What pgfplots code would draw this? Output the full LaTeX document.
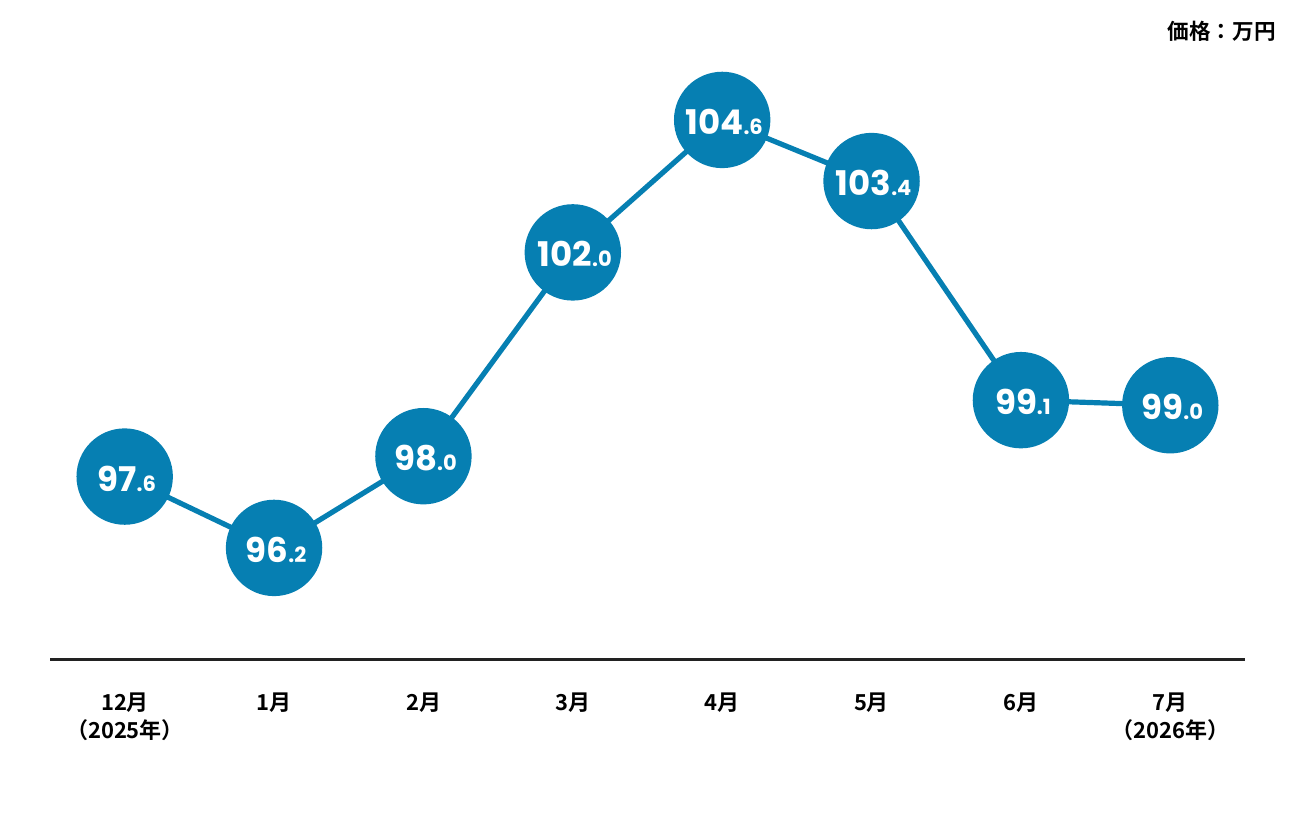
\documentclass[border=0pt]{standalone}
\usepackage{pgfplots}
\pgfplotsset{compat=1.18}
\usepackage{pgfplotstable}
\usepackage{fontspec}
\setmainfont{Poppins}
\newfontfamily\cjk{Noto Sans CJK JP}[BoldFont={* Bold}]
\newfontfamily\num{Poppins}[BoldFont={* Bold}]
\definecolor{cblue}{HTML}{067FB2}
\definecolor{axdark}{HTML}{222222}
\def\splitnum#1.#2\relax{{\fontsize{17bp}{17bp}\selectfont#1}{\fontsize{10.5bp}{10bp}\selectfont.#2}}
\pgfplotstableread{
x y
0 97.6
1 96.2
2 98.0
3 102.0
4 104.6
5 103.4
6 99.1
7 99.0
}\datatab
\begin{document}
\begin{tikzpicture}
\useasboundingbox (0,0) rectangle (648bp,408bp);
\begin{axis}[
  at={(25bp,78bp)}, anchor=south west,
  scale only axis,
  width=597.5bp, height=305.7bp,
  xmin=-0.5, xmax=7.5, ymin=94, ymax=106,
  axis lines=none,
  clip=false,
  xtick=\empty, ytick=\empty,
]
\draw[axdark, line width=1.5bp] (rel axis cs:0,0) -- (rel axis cs:1,0);
\addplot[cblue, line width=2.6bp, mark=*, mark size=22.8bp,
  mark options={fill=cblue, draw=none},
  point meta=explicit symbolic,
  nodes near coords={\num\bfseries\expandafter\splitnum\pgfplotspointmeta\relax},
  nodes near coords align={center},
  every node near coord/.append style={text=white, anchor=center, inner sep=0pt, xshift=1bp, yshift=-1bp},
] table[x=x,y=y,meta=y] {\datatab};
\end{axis}
\node[anchor=east, font=\cjk\bfseries\fontsize{10.8bp}{12bp}\selectfont, inner sep=0pt] at (638bp,392.5bp) {価格：万円};
\foreach \i/\lab in {0/{12月\\（2025年）},1/1月,2/2月,3/3月,4/4月,5/5月,6/6月,7/{7月\\（2026年）}}{
  \node[anchor=north, align=center, font=\cjk\bfseries\fontsize{11bp}{14bp}\selectfont, inner sep=0pt] at ({(125+149.3*\i)/2*1bp},{(816-692)/2*1bp}) {\lab};
}
\end{tikzpicture}
\end{document}
